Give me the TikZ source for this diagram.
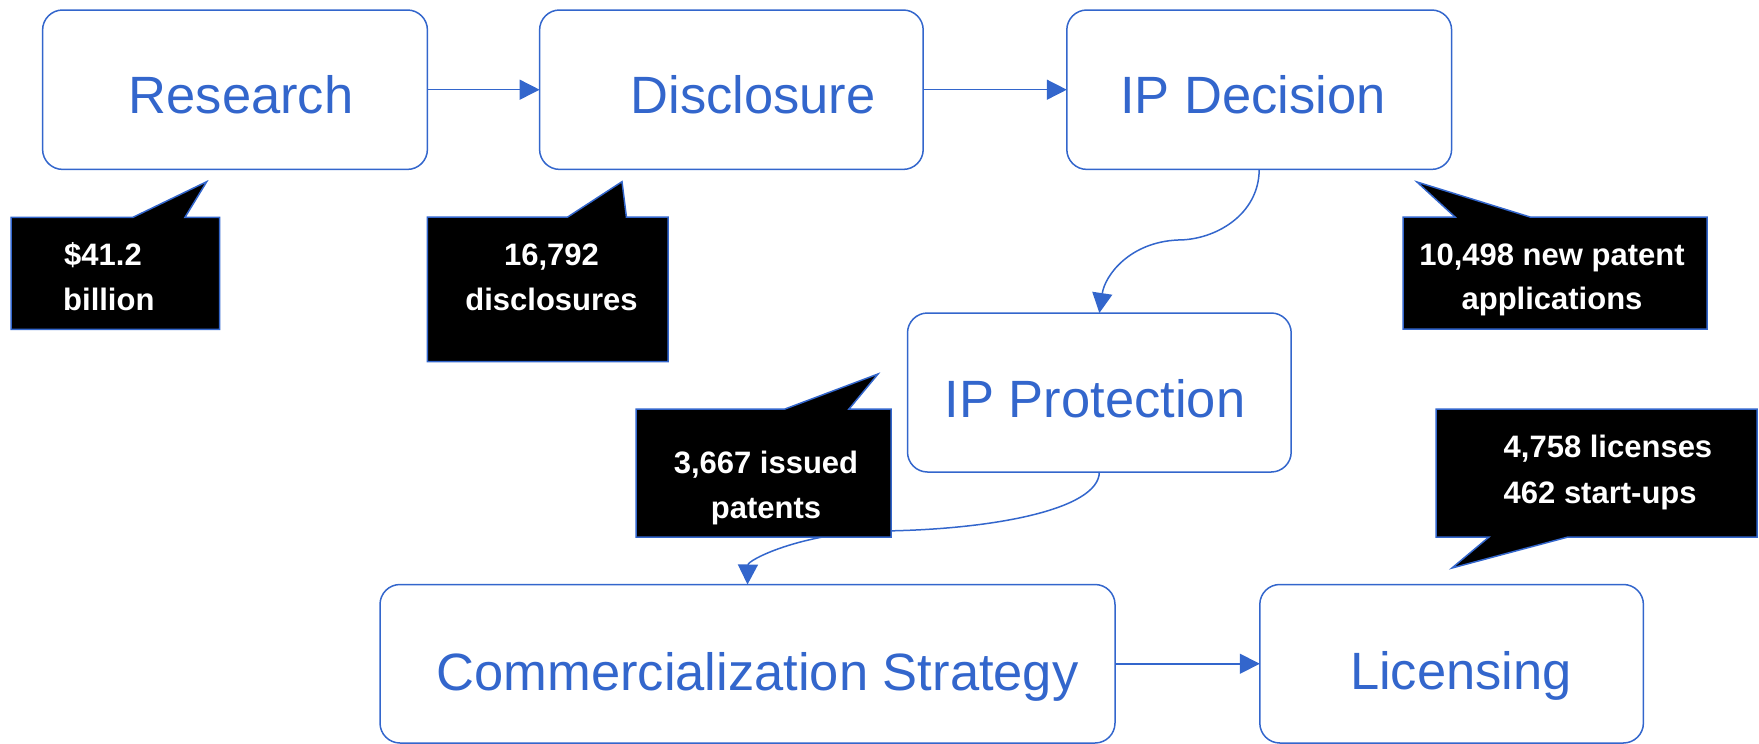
\documentclass[tikz,border=0pt]{standalone}
\usepackage{fontspec}
\setmainfont{Liberation Sans}
\usetikzlibrary{arrows.meta}
\definecolor{bl}{RGB}{51,102,204}
\begin{document}
\begin{tikzpicture}[x=1pt,y=-1pt,
 box/.style={draw=bl, line width=1.5pt, rounded corners=20pt, inner sep=0pt, outer sep=0pt},
 lbl/.style={text=bl, font=\fontsize{52.5}{60}\selectfont, anchor=base, inner sep=0pt},
 ctext/.style={text=white, font=\bfseries\fontsize{31}{40}\selectfont, inner sep=0pt, anchor=base},
 callout/.style={fill=black, draw=bl, line width=1.5pt, line join=miter},
 conn/.style={draw=bl, line width=1.5pt, -{Triangle[length=20pt,width=20pt]}}]
\useasboundingbox (0,0) rectangle (1759,744);
% boxes
\node[box, minimum width=384.8pt, minimum height=159.4pt] (research) at (235,89.7) {};
\node[box, minimum width=383.6pt, minimum height=159.4pt] (disclosure) at (731.4,89.7) {};
\node[box, minimum width=384.8pt, minimum height=159.4pt] (ipdec) at (1259.2,89.7) {};
\node[box, minimum width=383.7pt, minimum height=159pt] (ipprot) at (1099.35,392.5) {};
\node[box, minimum width=735pt, minimum height=158.5pt] (comm) at (747.5,663.75) {};
\node[box, minimum width=383.6pt, minimum height=158.5pt] (lic) at (1451.6,663.75) {};
% labels
\node[lbl] (tresearch) at (241,113) {Research};
\node[lbl] (tdisclosure) at (753,113) {Disclosure};
\node[lbl] (tipdec) at (1253,113) {IP Decision};
\node[lbl] (tipprot) at (1095,417) {IP Protection};
\node[lbl] (tcomm) at (757.6,690) {Commercialization Strategy};
\node[lbl] (tlic) at (1461,689) {Licensing};
% connectors
\draw[conn] (research.east) -- (disclosure.west);
\draw[conn] (disclosure.east) -- (ipdec.west);
\draw[conn] (ipdec.south) .. controls (1259,215) and (1215,240) .. (1178,240)
  .. controls (1130,242) and (1105,275) .. (ipprot.north);
\draw[conn] (ipprot.south) .. controls (1099,510) and (990,530) .. (880,531)
  .. controls (800,533) and (748,560) .. (comm.north);
\draw[conn] (comm.east) -- (lic.west);
% callouts
\draw[callout] (11,217.3) -- (133,217.3) -- (206.7,181.7) -- (185,217.3) -- (219.7,217.3) -- (219.7,329.3) -- (11,329.3) -- cycle;
\node[ctext, anchor=base west] (c1a) at (64,265) {\$41.2};
\node[ctext, anchor=base west] (c1b) at (63,310) {billion};
\draw[callout] (427.4,217) -- (567.7,217) -- (622,181.7) -- (626.4,217) -- (668,217) -- (668,361.7) -- (427.4,361.7) -- cycle;
\node[ctext] (c2a) at (551.5,265) {16,792};
\node[ctext] (c2b) at (551.5,310) {disclosures};
\draw[callout] (1403,217) -- (1455,217) -- (1417,182) -- (1530,217) -- (1707,217) -- (1707,329) -- (1403,329) -- cycle;
\node[ctext] (c3a) at (1552,265) {10,498 new patent};
\node[ctext] (c3b) at (1552,309) {applications};
\draw[callout] (1436,409) -- (1757,409) -- (1757,537) -- (1568,537) -- (1452,568) -- (1489,537) -- (1436,537) -- cycle;
\node[ctext, anchor=base west] (c4a) at (1503.5,457) {4,758 licenses};
\node[ctext, anchor=base west] (c4b) at (1503.5,503) {462 start-ups};
\draw[callout] (636,409) -- (785,409) -- (878,374) -- (849,409) -- (891,409) -- (891,537) -- (636,537) -- cycle;
\node[ctext] (c5a) at (766,473) {3,667 issued};
\node[ctext] (c5b) at (766,518) {patents};
\end{tikzpicture}
\end{document}
